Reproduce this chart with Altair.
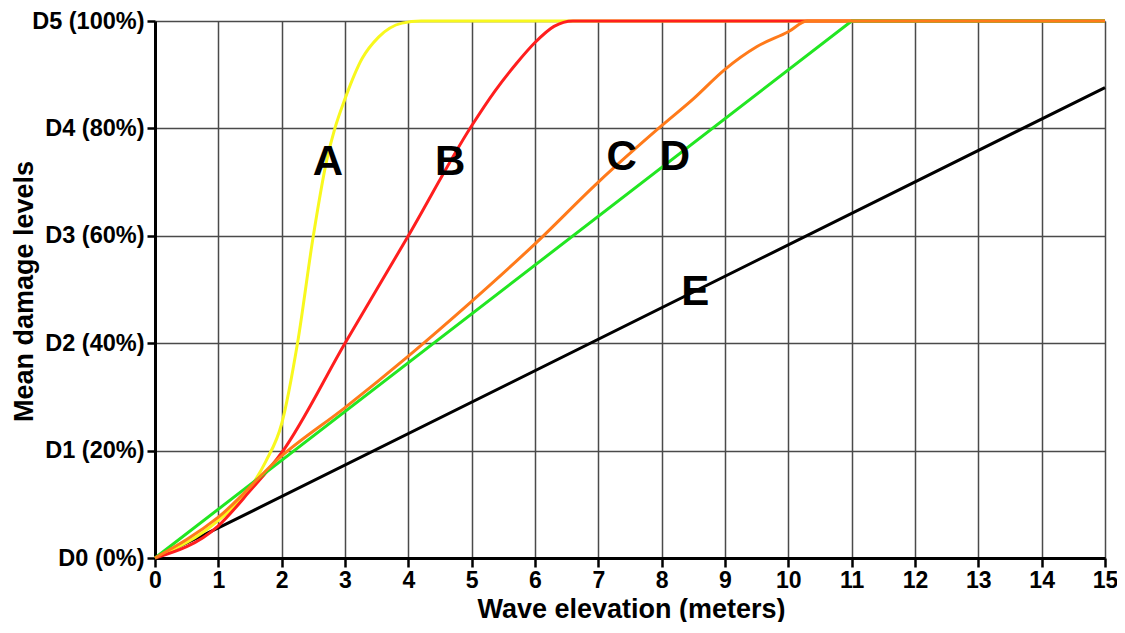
import altair as alt
import pandas as pd

FONT = "Liberation Sans"

# Axis ticks and labels
x_ticks = list(range(16))
y_ticks = [0, 20, 40, 60, 80, 100]
y_tick_labels = ["D0 (0%)", "D1 (20%)", "D2 (40%)", "D3 (60%)", "D4 (80%)", "D5 (100%)"]

# Curve A (yellow)
a_x = [0, 1, 1.5, 1.75, 2.0, 2.25, 2.5, 2.71, 2.84, 3.0, 3.27, 3.53, 3.9, 4.2, 15]
a_y = [0, 7, 13, 18, 25, 40, 60, 74, 80, 85.5, 93, 97, 99.6, 100, 100]
# Curve B (red)
b_x = [0, 1, 1.5, 2, 3, 4, 5, 5.37, 5.7, 6, 6.3, 6.6, 15]
b_y = [0, 6, 12.5, 19.6, 40, 60, 80.5, 87, 92, 96, 99, 100, 100]
# Curve C (orange)
c_x = [0, 1, 2, 3, 4, 5, 6, 7, 8, 8.5, 9, 9.5, 10, 10.3, 15]
c_y = [0, 7.6, 19, 28, 37.6, 47.8, 58.5, 70, 80.5, 85.5, 91, 95.2, 98, 100, 100]
# Curve D (green)
d_x = [0, 11, 15]
d_y = [0, 100, 100]
# Curve E (black)
e_x = [0, 1, 15]
e_y = [0, 5.6, 87.6]

# Curve letters
lab_text = ["A", "B", "C", "D", "E"]
lab_x = [2.73, 4.66, 7.37, 8.21, 8.53]
lab_y = [73.7, 73.7, 74.6, 74.6, 49.6]

label_expr = "[" + ",".join("'" + s + "'" for s in y_tick_labels) + "][round(datum.value/20)]"

X = alt.X(
    "x:Q",
    scale=alt.Scale(domain=[0, 15], nice=False, zero=False),
    axis=alt.Axis(
        values=x_ticks, grid=True, gridColor="#4a4a4a", gridWidth=1.5,
        domainColor="black", domainWidth=3, tickColor="black", tickWidth=2.5, tickSize=9,
        labelFont=FONT, labelFontSize=23, labelFontWeight="bold", labelColor="black",
        labelPadding=2, labelFlush=False,
        title="Wave elevation (meters)", titleFont=FONT, titleFontSize=27,
        titleFontWeight="bold", titleColor="black", titleX=476, titleY=51,
        titleAlign="center", titleBaseline="middle",
    ),
)
Y = alt.Y(
    "y:Q",
    scale=alt.Scale(domain=[0, 100], nice=False),
    axis=alt.Axis(
        values=y_ticks, labelExpr=label_expr, grid=True, gridColor="#4a4a4a", gridWidth=1.5,
        domainColor="black", domainWidth=3, tickColor="black", tickWidth=2.5, tickSize=8,
        labelFont=FONT, labelFontSize=23.5, labelFontWeight="bold", labelColor="black",
        labelPadding=3, labelFlush=False,
        title="Mean damage levels", titleFont=FONT, titleFontSize=27,
        titleFontWeight="bold", titleColor="black", titleAngle=270,
        titleX=-131, titleY=270, titleAlign="center", titleBaseline="middle",
    ),
)


def curve(xs, ys, color, interp):
    df = pd.DataFrame({"x": xs, "y": ys})
    return alt.Chart(df).mark_line(
        color=color, strokeWidth=3, interpolate=interp, clip=False
    ).encode(x=X, y=Y)


labels_df = pd.DataFrame({"x": lab_x, "y": lab_y, "t": lab_text})
labels = alt.Chart(labels_df).mark_text(
    font=FONT, fontSize=42, fontWeight="bold", color="black",
    align="center", baseline="middle"
).encode(x=X, y=Y, text="t:N")

chart = alt.layer(
    curve(e_x, e_y, "#000000", "linear"),
    curve(a_x, a_y, "#f8f81e", "monotone"),
    curve(b_x, b_y, "#ff1e1e", "monotone"),
    curve(d_x, d_y, "#22e622", "linear"),
    curve(c_x, c_y, "#ff7a1a", "monotone"),
    labels,
).properties(
    width=950, height=537,
    autosize=alt.AutoSizeParams(type="none"),
    padding={"left": 147, "top": 13, "right": 12, "bottom": 64},
    background="white",
).configure_view(stroke=None)

chart.save("out.html", embed_options={"renderer": "svg", "actions": False})
